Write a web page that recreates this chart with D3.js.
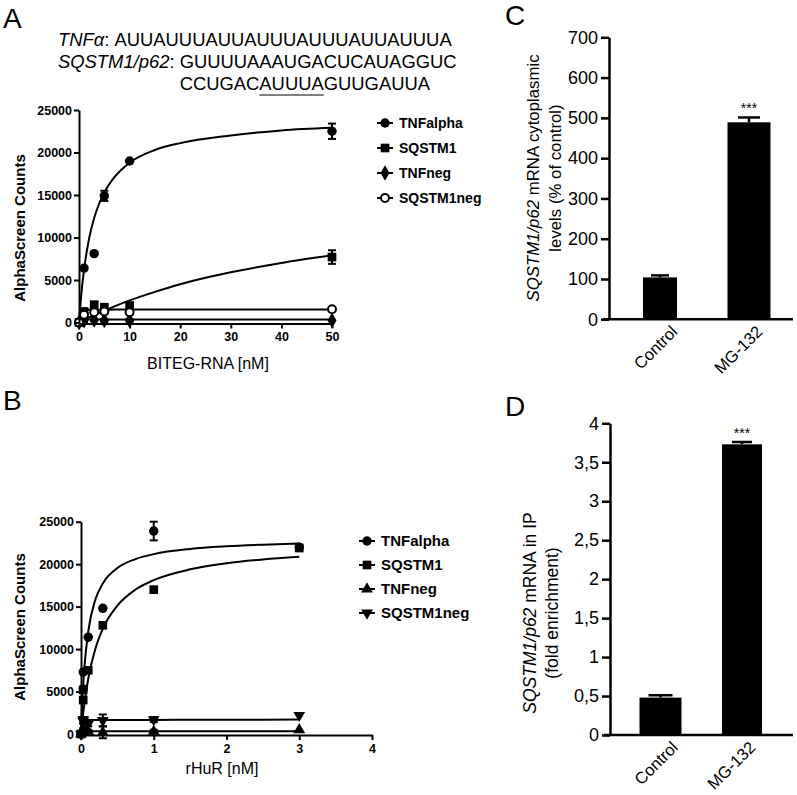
<!DOCTYPE html>
<html><head><meta charset="utf-8">
<script src="https://cdn.jsdelivr.net/npm/d3@7"></script>
<style>body{margin:0;background:#fff}svg{display:block;font-family:"Liberation Sans",Arial,sans-serif}</style>
</head><body><svg id="c" width="797" height="795"></svg>
<script>
// ---------- Panel A data ----------
const aX = [0, 1, 3, 5, 10, 50];
const aTNFalpha = [0, 6400, 8100, 14900, 19000, 22500];
const aTNFalphaErr = [0, 0, 0, 600, 0, 900];
const aSQSTM1 = [0, 1300, 2100, 1800, 2000, 7700];
const aSQSTM1Err = [0, 300, 300, 300, 300, 800];
const aTNFneg = [0, 200, 300, 250, 250, 250];
const aTNFnegErr = [0, 150, 150, 150, 150, 0];
const aSQSTM1neg = [0, 900, 1200, 1300, 1200, 1550];
const aSQSTM1negErr = [0, 200, 200, 200, 200, 0];
const aCurveX = [0, 0.5, 1, 2, 3, 4, 5, 7, 10, 15, 20, 30, 40, 50];
const aCurveTNFalpha = [0, 3600, 6200, 9900, 12300, 14000, 15300, 17100, 18800, 20300, 21100, 22000, 22600, 22900];
const aCurveSQSTM1 = [0, 150, 300, 600, 880, 1150, 1400, 1900, 2600, 3600, 4500, 5900, 7000, 7900];
const aCurveTNFneg = [0, 330, 340, 345, 345, 345, 345, 345, 345, 345, 345, 348, 350, 350];
const aCurveSQSTM1neg = [0, 1400, 1480, 1500, 1505, 1510, 1510, 1515, 1520, 1525, 1525, 1530, 1530, 1530];
const aYTicks = [0, 5000, 10000, 15000, 20000, 25000];
const aXTicks = [0, 10, 20, 30, 40, 50];
const aLegend = ["TNFalpha", "SQSTM1", "TNFneg", "SQSTM1neg"];

// ---------- Panel B data ----------
const bX = [0, 0.03, 0.03, 0.1, 0.3, 1, 3];
const bTNFalpha = [0, 5300, 7300, 11400, 14800, 23900, 22000];
const bTNFalphaErr = [0, 0, 0, 0, 0, 1100, 0];
const bSQSTM1 = [0, 4000, 5200, 7500, 12800, 17000, 21900];
const bSQSTM1Err = [0, 0, 0, 0, 0, 0, 0];
const bTNFneg = [0, 300, 500, 300, 200, 300, 500];
const bTNFnegErr = [0, 200, 200, 200, 700, 200, 0];
const bSQSTM1neg = [0, 1500, 1700, 1200, 1600, 1700, 2200];
const bSQSTM1negErr = [0, 300, 300, 300, 700, 300, 0];
const bCurveX = [0, 0.01, 0.03, 0.05, 0.1, 0.2, 0.3, 0.5, 0.75, 1, 1.5, 2, 2.5, 3];
const bCurveTNFalpha = [0, 2290, 5730, 8200, 12100, 15890, 17730, 19550, 20600, 21180, 21790, 22100, 22290, 22430];
const bCurveSQSTM1 = [0, 880, 2460, 3750, 6530, 10100, 12400, 15120, 17010, 18120, 19390, 20100, 20550, 20860];
const bCurveTNFneg = [0, 250, 300, 310, 320, 320, 320, 325, 325, 325, 330, 330, 330, 330];
const bCurveSQSTM1neg = [0, 1400, 1600, 1620, 1640, 1650, 1650, 1650, 1660, 1660, 1670, 1680, 1690, 1700];
const bYTicks = [0, 5000, 10000, 15000, 20000, 25000];
const bXTicks = [0, 1, 2, 3, 4];
const bLegend = ["TNFalpha", "SQSTM1", "TNFneg", "SQSTM1neg"];

// ---------- Panel C data ----------
const cCats = ["Control", "MG-132"];
const cValues = [104, 489];
const cErr = [5, 12];
const cSig = ["", "***"];
const cTicks = [0, 100, 200, 300, 400, 500, 600, 700];

// ---------- Panel D data ----------
const dCats = ["Control", "MG-132"];
const dValues = [0.48, 3.73];
const dErr = [0.03, 0.03];
const dSig = ["", "***"];
const dTicks = [0, 0.5, 1, 1.5, 2, 2.5, 3, 3.5, 4];

const svg = d3.select("#c");
const FONT = '"Liberation Sans",Arial,sans-serif';

// ---------- panel letters & sequences ----------
svg.append("text").attr("x", 3).attr("y", 28).attr("font-size", 28).text("A");
svg.append("text").attr("x", 3).attr("y", 410).attr("font-size", 28).text("B");
svg.append("text").attr("x", 505).attr("y", 25).attr("font-size", 28).text("C");
svg.append("text").attr("x", 505).attr("y", 416).attr("font-size", 28).text("D");

const seqFont = 18.4;
const seq1 = svg.append("text").attr("x", 58).attr("y", 46).attr("font-size", seqFont);
seq1.append("tspan").attr("font-style", "italic").text("TNFα");
seq1.append("tspan").text(": AUUAUUUAUUAUUUAUUUAUUAUUUA");
const seq2 = svg.append("text").attr("x", 58).attr("y", 68).attr("font-size", seqFont);
seq2.append("tspan").attr("font-style", "italic").text("SQSTM1/p62");
seq2.append("tspan").text(": GUUUUAAAUGACUCAUAGGUC");
const gStart = seq2.node().getStartPositionOfChar(12).x;
const seq3 = svg.append("text").attr("x", gStart).attr("y", 90).attr("font-size", seqFont).text("CCUGACAUUUAGUUGAUUA");
{
  const n = seq3.node();
  const s = n.getStartPositionOfChar(6).x;
  const e = n.getEndPositionOfChar(10).x;
  svg.append("line").attr("x1", s).attr("x2", e).attr("y1", 95).attr("y2", 95).attr("stroke", "#000").attr("stroke-width", 1.2);
}

// ---------- marker helpers ----------
function marker(g, type, x, y) {
  const sym = {
    circle: d3.symbolCircle, square: d3.symbolSquare, diamond: d3.symbolDiamond,
    ocircle: d3.symbolCircle, up: d3.symbolTriangle, down: d3.symbolTriangle
  }[type];
  const size = {circle: 70, square: 75, diamond: 70, ocircle: 50, up: 60, down: 60}[type];
  const p = g.append("path").attr("d", d3.symbol().type(sym).size(size)())
    .attr("transform", `translate(${x},${y})` + (type === "down" ? " rotate(180)" : ""));
  if (type === "ocircle") p.attr("fill", "#fff").attr("stroke", "#000").attr("stroke-width", 2);
  else p.attr("fill", "#000");
}

function scatterPanel(cfg) {
  const g = svg.append("g");
  const x = d3.scaleLinear().domain(cfg.xDomain).range(cfg.xRange);
  const y = d3.scaleLinear().domain([0, 25000]).range(cfg.yRange);
  const line = d3.line().x(d => x(d[0])).y(d => y(d[1])).curve(d3.curveMonotoneX);
  cfg.curves.forEach(c => {
    g.append("path").attr("d", line(cfg.curveX.map((v, i) => [v, c[i]])))
      .attr("fill", "none").attr("stroke", "#000").attr("stroke-width", 2);
  });
  cfg.series.forEach(s => {
    s.values.forEach((v, i) => {
      const e = s.err[i];
      const px = x(cfg.xs[i]);
      if (e > 0) {
        g.append("line").attr("x1", px).attr("x2", px).attr("y1", y(v - e)).attr("y2", y(v + e)).attr("stroke", "#000").attr("stroke-width", 2);
        [v - e, v + e].forEach(t => g.append("line").attr("x1", px - 4).attr("x2", px + 4).attr("y1", y(t)).attr("y2", y(t)).attr("stroke", "#000").attr("stroke-width", 2));
      }
      marker(g, s.type, px, y(v));
    });
  });
  const ya = g.append("g").attr("transform", `translate(${cfg.xRange[0]},0)`)
    .call(d3.axisLeft(y).tickValues(cfg.yTicks).tickSize(5).tickSizeOuter(0).tickPadding(2).tickFormat(d3.format("d")));
  const xa = g.append("g").attr("transform", `translate(0,${cfg.yRange[0] + 1})`)
    .call(d3.axisBottom(x).tickValues(cfg.xTicks).tickSize(5).tickSizeOuter(0).tickPadding(4).tickFormat(d3.format("d")));
  [ya, xa].forEach(a => {
    a.selectAll("path,line").attr("stroke", "#000").attr("stroke-width", 2);
    a.selectAll("text").attr("fill", "#000").attr("font-size", 12.5).attr("font-weight", "bold").attr("font-family", FONT);
  });
  g.append("text").attr("transform", `translate(${cfg.yLabelX},${cfg.yLabelY}) rotate(-90)`)
    .attr("text-anchor", "middle").attr("font-size", 15).attr("font-weight", "bold").text("AlphaScreen Counts");
  g.append("text").attr("x", cfg.xLabelX).attr("y", cfg.xLabelY).attr("text-anchor", "middle")
    .attr("font-size", 16).text(cfg.xLabel);
  cfg.legend.forEach((name, i) => {
    const ly = cfg.legendY[i];
    g.append("line").attr("x1", cfg.legendX - 8).attr("x2", cfg.legendX + 8).attr("y1", ly).attr("y2", ly).attr("stroke", "#000").attr("stroke-width", 2);
    marker(g, cfg.series[i].type, cfg.legendX, ly);
    g.append("text").attr("x", cfg.legendX + 14).attr("y", ly + 5).attr("font-size", cfg.legendFont).attr("font-weight", "bold").text(name);
  });
}

scatterPanel({
  xDomain: [0, 50], xRange: [79, 332], yRange: [322.5, 110],
  xs: aX, yTicks: aYTicks, xTicks: aXTicks,
  curveX: aCurveX, curves: [aCurveTNFalpha, aCurveSQSTM1, aCurveTNFneg, aCurveSQSTM1neg],
  series: [
    {values: aTNFalpha, err: aTNFalphaErr, type: "circle"},
    {values: aSQSTM1, err: aSQSTM1Err, type: "square"},
    {values: aTNFneg, err: aTNFnegErr, type: "diamond"},
    {values: aSQSTM1neg, err: aSQSTM1negErr, type: "ocircle"}
  ],
  yLabelX: 25, yLabelY: 228, xLabel: "BITEG-RNA [nM]", xLabelX: 208, xLabelY: 369,
  legend: aLegend, legendX: 385, legendY: [123, 148, 173, 198], legendFont: 14
});

scatterPanel({
  xDomain: [0, 4], xRange: [81, 372], yRange: [734, 521.7],
  xs: bX, yTicks: bYTicks, xTicks: bXTicks,
  curveX: bCurveX, curves: [bCurveTNFalpha, bCurveSQSTM1, bCurveTNFneg, bCurveSQSTM1neg],
  series: [
    {values: bTNFalpha, err: bTNFalphaErr, type: "circle"},
    {values: bSQSTM1, err: bSQSTM1Err, type: "square"},
    {values: bTNFneg, err: bTNFnegErr, type: "up"},
    {values: bSQSTM1neg, err: bSQSTM1negErr, type: "down"}
  ],
  yLabelX: 25, yLabelY: 627, xLabel: "rHuR [nM]", xLabelX: 222, xLabelY: 774,
  legend: bLegend, legendX: 367, legendY: [541, 565, 589, 613], legendFont: 15
});

// ---------- bar panels ----------
function barPanel(cfg) {
  const g = svg.append("g");
  const y = d3.scaleLinear().domain([0, cfg.max]).range(cfg.yRange);
  const x = d3.scalePoint().domain(cfg.cats).range(cfg.xCenters);
  cfg.values.forEach((v, i) => {
    const cx = x(cfg.cats[i]), w = cfg.widths[i];
    const top = y(v), et = y(v + cfg.err[i]);
    g.append("line").attr("x1", cx).attr("x2", cx).attr("y1", top).attr("y2", et).attr("stroke", "#000").attr("stroke-width", 2.5);
    g.append("line").attr("x1", cx - cfg.caps[i] / 2).attr("x2", cx + cfg.caps[i] / 2).attr("y1", et).attr("y2", et).attr("stroke", "#000").attr("stroke-width", 2.5);
    g.append("rect").attr("x", cx - w / 2).attr("width", w).attr("y", top).attr("height", y(0) - top).attr("fill", "#000");
    if (cfg.sig[i]) g.append("text").attr("x", cx).attr("y", et - cfg.sigGap).attr("text-anchor", "middle").attr("font-size", 14).text(cfg.sig[i]);
    g.append("text").attr("transform", `translate(${cx + cfg.lblDx[i]},${y(0) + 5}) rotate(-45)`)
      .attr("text-anchor", "end").attr("dy", "0.72em").attr("font-size", 16.5).text(cfg.cats[i]);
  });
  const ya = g.append("g").attr("transform", `translate(${cfg.axisX},0)`)
    .call(d3.axisLeft(y).tickValues(cfg.ticks).tickSize(8).tickSizeOuter(0).tickPadding(3).tickFormat(cfg.fmt));
  ya.selectAll("path,line").attr("stroke", "#000").attr("stroke-width", 2.5);
  ya.selectAll("text").attr("fill", "#000").attr("font-size", 18).attr("font-family", FONT);
  g.append("line").attr("x1", cfg.axisX - 6).attr("x2", 793).attr("y1", y(0)).attr("y2", y(0)).attr("stroke", "#000").attr("stroke-width", 2.5);
  const lab = g.append("text").attr("transform", `translate(${cfg.labelX},${cfg.labelY}) rotate(-90)`)
    .attr("text-anchor", "middle").attr("font-size", cfg.labelFont);
  cfg.label(lab);
}

barPanel({
  cats: cCats, values: cValues, err: cErr, sig: cSig, max: 700, yRange: [319.3, 37.3],
  xCenters: [660, 749], widths: [34, 43], caps: [18, 22], sigGap: 4, lblDx: [10, 6],
  ticks: cTicks, fmt: d3.format("d"), axisX: 609, labelX: 539, labelY: 178, labelFont: 16.8,
  label: t => {
    const t1 = t.append("tspan").attr("x", 0).attr("dy", 0);
    t1.append("tspan").attr("font-style", "italic").text("SQSTM1/p62");
    t1.append("tspan").text(" mRNA cytoplasmic");
    t.append("tspan").attr("x", 0).attr("dy", 22).text("levels (% of control)");
  }
});

barPanel({
  cats: dCats, values: dValues, err: dErr, sig: dSig, max: 4, yRange: [735, 423.3],
  xCenters: [660.5, 742], widths: [42, 40], caps: [24, 20], sigGap: 4, lblDx: [10, 6],
  ticks: dTicks, fmt: d => String(d).replace(".", ","), axisX: 610, labelX: 536, labelY: 613, labelFont: 17.5,
  label: t => {
    const t1 = t.append("tspan").attr("x", 0).attr("dy", 0);
    t1.append("tspan").attr("font-style", "italic").text("SQSTM1/p62");
    t1.append("tspan").text(" mRNA in IP");
    t.append("tspan").attr("x", 0).attr("dy", 22).text("(fold enrichment)");
  }
});
</script></body></html>
